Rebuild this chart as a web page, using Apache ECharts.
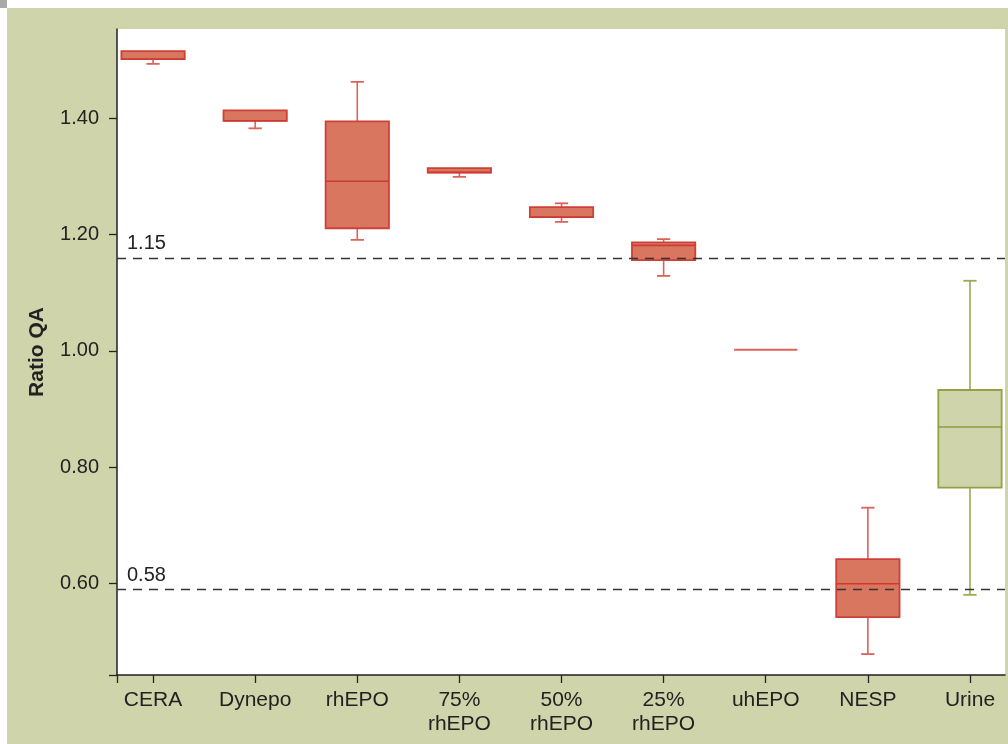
<!DOCTYPE html>
<html>
<head>
<meta charset="utf-8">
<script src="https://cdn.jsdelivr.net/npm/echarts@6/dist/echarts.min.js"></script>
<style>
html,body{margin:0;padding:0;background:#fff;}
#chart{width:1008px;height:744px;}
</style>
</head>
<body>
<div id="chart"></div>
<script>
// ---- data ----
var categories = ['CERA', 'Dynepo', 'rhEPO', '75%\nrhEPO', '50%\nrhEPO', '25%\nrhEPO', 'uhEPO', 'NESP', 'Urine'];
var mins    = [1.494, 1.383, 1.191, 1.2995, 1.222, 1.129, 1.002, 0.478, 0.580];
var q1s     = [1.502, 1.396, 1.211, 1.307, 1.230, 1.156, 1.002, 0.5415, 0.7645];
var medians = [1.502, 1.396, 1.292, 1.307, 1.230, 1.1815, 1.002, 0.599, 0.869];
var q3s     = [1.516, 1.414, 1.395, 1.3145, 1.2474, 1.1867, 1.002, 0.6413, 0.9326];
var maxs    = [1.516, 1.414, 1.463, 1.3145, 1.254, 1.1923, 1.002, 0.730, 1.1206];
var yTicks  = [0.60, 0.80, 1.00, 1.20, 1.40];
var refLines = [1.163, 0.588];
var refLabels = ['1.15', '0.58'];

var boxData = categories.map(function (c, i) {
  return [i, mins[i], q1s[i], medians[i], q3s[i], maxs[i]];
});

var redStyle = { fill: '#d87660', stroke: '#cf4036', whisker: '#dc625a', median: '#cc3a32' };
var greenStyle = { fill: '#cfd4aa', stroke: '#93a044', whisker: '#9cab50', median: '#8e9c3c' };

function renderBox(params, api) {
  var x = api.value(0);
  var pMin = api.coord([x, api.value(1)]);
  var pQ1 = api.coord([x, api.value(2)]);
  var pMed = api.coord([x, api.value(3)]);
  var pQ3 = api.coord([x, api.value(4)]);
  var pMax = api.coord([x, api.value(5)]);
  var unit = api.size([1, 0])[0];
  var half = unit * 0.31;
  var cap = unit * 0.065;
  var st = categories[params.dataIndex] === 'Urine' ? greenStyle : redStyle;
  var cx = pQ1[0];
  var children = [];
  if (Math.abs(pQ1[1] - pMin[1]) > 0.5) {
    children.push({ type: 'line', shape: { x1: cx, y1: pQ1[1], x2: cx, y2: pMin[1] }, style: { stroke: st.whisker, lineWidth: 1.6 } });
    children.push({ type: 'line', shape: { x1: cx - cap, y1: pMin[1], x2: cx + cap, y2: pMin[1] }, style: { stroke: st.whisker, lineWidth: 1.8 } });
  }
  if (Math.abs(pQ3[1] - pMax[1]) > 0.5) {
    children.push({ type: 'line', shape: { x1: cx, y1: pQ3[1], x2: cx, y2: pMax[1] }, style: { stroke: st.whisker, lineWidth: 1.6 } });
    children.push({ type: 'line', shape: { x1: cx - cap, y1: pMax[1], x2: cx + cap, y2: pMax[1] }, style: { stroke: st.whisker, lineWidth: 1.8 } });
  }
  var h = pQ1[1] - pQ3[1];
  if (h > 0.5) {
    children.push({ type: 'rect', shape: { x: cx - half, y: pQ3[1], width: half * 2, height: h }, style: { fill: st.fill, stroke: st.stroke, lineWidth: 1.8 } });
    children.push({ type: 'line', shape: { x1: cx - half, y1: pMed[1], x2: cx + half, y2: pMed[1] }, style: { stroke: st.median, lineWidth: 1.6 } });
  } else {
    children.push({ type: 'line', shape: { x1: cx - half, y1: pMed[1], x2: cx + half, y2: pMed[1] }, style: { stroke: st.whisker, lineWidth: 2 } });
  }
  return { type: 'group', children: children };
}

var chart = echarts.init(document.getElementById('chart'), null, { renderer: 'canvas' });
var textColor = '#222';
var fontFam = '"Liberation Sans", Arial, Helvetica, sans-serif';

chart.setOption({
  animation: false,
  backgroundColor: '#cfd4aa',
  textStyle: { fontFamily: fontFam },
  graphic: [
    { type: 'rect', shape: { x: 0, y: 0, width: 1008, height: 8 }, style: { fill: '#ffffff' }, silent: true },
    { type: 'rect', shape: { x: 0, y: 0, width: 7, height: 744 }, style: { fill: '#ffffff' }, silent: true },
    { type: 'rect', shape: { x: 0, y: 0, width: 7, height: 8 }, style: { fill: '#a9a9a9' }, silent: true }
  ],
  grid: { left: 117, top: 29, right: 3, bottom: 69, show: true, backgroundColor: '#ffffff', borderWidth: 0 },
  xAxis: {
    type: 'value',
    min: -0.353,
    max: 8.343,
    splitLine: { show: false },
    axisLine: { show: true, onZero: false, lineStyle: { color: textColor, width: 1.5 } },
    axisTick: { show: true, length: 8, customValues: [-0.353, 0, 1, 2, 3, 4, 5, 6, 7, 8], lineStyle: { color: textColor, width: 1.3 } },
    axisLabel: {
      customValues: [0, 1, 2, 3, 4, 5, 6, 7, 8],
      formatter: function (v) { return categories[Math.round(v)]; },
      fontSize: 21, color: textColor, lineHeight: 24, margin: 13, fontFamily: fontFam
    }
  },
  yAxis: {
    type: 'value',
    min: 0.442,
    max: 1.554,
    name: 'Ratio QA',
    nameLocation: 'middle',
    nameGap: 69,
    nameRotate: 90,
    nameTextStyle: { fontSize: 21, fontWeight: 'bold', color: textColor, fontFamily: fontFam },
    splitLine: { show: false },
    axisLine: { show: true, onZero: false, lineStyle: { color: textColor, width: 1.5 } },
    axisTick: { show: true, length: 8, customValues: [0.442].concat(yTicks), lineStyle: { color: textColor, width: 1.3 } },
    axisLabel: {
      customValues: yTicks,
      formatter: function (v) { return v.toFixed(2); },
      fontSize: 20, color: textColor, margin: 18, fontFamily: fontFam
    }
  },
  series: [{
    type: 'custom',
    renderItem: renderBox,
    data: boxData,
    encode: { x: 0, y: [1, 2, 3, 4, 5] },
    clip: false,
    z: 3,
    markLine: {
      silent: true,
      symbol: 'none',
      animation: false,
      lineStyle: { color: '#333', type: [9, 7], width: 1.4 },
      label: { show: true, position: 'insideStartTop', distance: [10, 4], fontSize: 20, color: textColor, fontFamily: fontFam },
      data: refLines.map(function (v, i) {
        return { yAxis: v, label: { formatter: refLabels[i] } };
      })
    }
  }]
});
</script>
</body>
</html>
